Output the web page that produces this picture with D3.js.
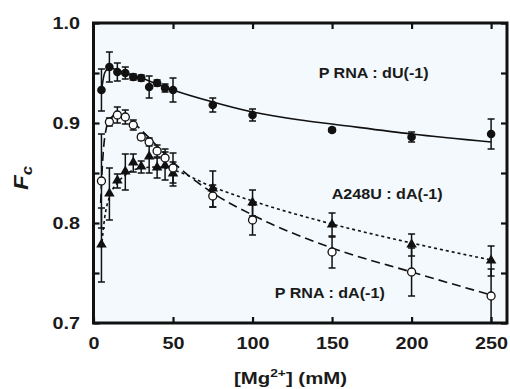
<!DOCTYPE html>
<html>
<head>
<meta charset="utf-8">
<script src="https://cdn.jsdelivr.net/npm/d3@7"></script>
<style>
  html, body { margin: 0; padding: 0; background: #ffffff; }
  svg { display: block; font-family: "Liberation Sans", Arial, Helvetica, sans-serif; }
</style>
</head>
<body>
<svg id="chart" width="510" height="389"></svg>
<script>
// ---- data ----
const conc = [5, 10, 15, 20, 25, 30, 35, 40, 45, 50, 75, 100, 150, 200, 250];

// P RNA : dU(-1)  (filled circles)
const fcDU  = [0.933, 0.956, 0.951, 0.950, 0.946, 0.945, 0.936, 0.940, 0.935, 0.933, 0.918, 0.908, 0.893, 0.886, 0.889];
const errDU = [0.021, 0.015, 0.009, 0.006, 0.003, 0.003, 0.011, 0.003, 0.004, 0.012, 0.007, 0.006, 0.002, 0.005, 0.015];

// A248U : dA(-1)  (filled triangles)
const fcA248U  = [0.778, 0.829, 0.842, 0.851, 0.860, 0.856, 0.866, 0.855, 0.857, 0.849, 0.834, 0.820, 0.798, 0.778, 0.762];
const errA248U = [0.037, 0.026, 0.007, 0.018, 0.009, 0.006, 0.016, 0.010, 0.014, 0.012, 0.018, 0.013, 0.012, 0.011, 0.015];

// P RNA : dA(-1)  (open circles)
const fcPdA  = [0.842, 0.901, 0.908, 0.906, 0.898, 0.886, 0.881, 0.872, 0.865, 0.855, 0.827, 0.803, 0.771, 0.751, 0.727];
const errPdA = [0.047, 0.004, 0.008, 0.007, 0.005, 0.003, 0.004, 0.006, 0.009, 0.015, 0.011, 0.015, 0.016, 0.024, 0.027];

// fitted curves
const fitDUx = [5, 7, 10, 15, 20, 30, 40, 50, 75, 100, 130, 150, 200, 250];
const fitDUy = [0.932, 0.950, 0.955, 0.953, 0.950, 0.945, 0.939, 0.933, 0.921, 0.911, 0.903, 0.899, 0.889, 0.881];

const fitPdAx = [4.5, 5.5, 7, 10, 15, 20, 30, 40, 50, 75, 100, 150, 200, 250];
const fitPdAy = [0.820, 0.855, 0.885, 0.903, 0.909, 0.907, 0.893, 0.877, 0.861, 0.830, 0.808, 0.775, 0.751, 0.728];

const fitA248Ux = [5, 7, 10, 15, 20, 30, 40, 50, 75, 100, 150, 200, 250];
const fitA248Uy = [0.775, 0.805, 0.826, 0.840, 0.848, 0.855, 0.856, 0.853, 0.836, 0.822, 0.799, 0.780, 0.763];

const xTicks = [0, 50, 100, 150, 200, 250];
const yTicksMajor = [0.7, 0.8, 0.9, 1.0];
const yTicksAll = [0.7, 0.75, 0.8, 0.85, 0.9, 0.95, 1.0];

const labels = [
  { text: "P RNA : dU(-1)", x: 210.7, y: 0.9455, anchor: "end" },
  { text: "A248U : dA(-1)", x: 219.5, y: 0.8245, anchor: "end" },
  { text: "P RNA : dA(-1)", x: 114,   y: 0.7255, anchor: "start" }
];

// ---- drawing ----
const svg = d3.select("#chart");
const x = d3.scaleLinear().domain([0, 260]).range([93.5, 507]);
const y = d3.scaleLinear().domain([0.7, 1.0]).range([323, 23]);
const SX = 1.2; // horizontal stretch of the lettering

// plot background
svg.append("rect")
  .attr("x", x(0)).attr("y", y(1.0))
  .attr("width", x(260) - x(0)).attr("height", y(0.7) - y(1.0))
  .attr("fill", "#f3f9fc");

// axes with inward ticks
const tickLen = 6;
svg.append("g").attr("class", "ax").attr("transform", `translate(0,${y(0.7)})`)
  .call(d3.axisBottom(x).tickValues(xTicks).tickSize(-tickLen).tickPadding(14).tickFormat(d3.format("d")))
  .call(g => g.select(".domain").remove());
svg.append("g").attr("transform", `translate(0,${y(1.0)})`)
  .call(d3.axisTop(x).tickValues(xTicks.slice(1)).tickSize(-tickLen).tickFormat(""))
  .call(g => g.select(".domain").remove());
svg.append("g").attr("class", "ax").attr("transform", `translate(${x(0)},0)`)
  .call(d3.axisLeft(y).tickValues(yTicksAll).tickSize(-tickLen).tickPadding(11.2)
    .tickFormat(d => yTicksMajor.some(v => Math.abs(v - d) < 1e-9) ? d3.format(".1f")(d) : ""))
  .call(g => g.select(".domain").remove());
svg.append("g").attr("transform", `translate(${x(260)},0)`)
  .call(d3.axisRight(y).tickValues(yTicksAll).tickSize(-tickLen).tickFormat(""))
  .call(g => g.select(".domain").remove());

svg.selectAll(".tick line").attr("stroke", "#111").attr("stroke-width", 2.2);
svg.selectAll(".ax .tick text")
  .attr("fill", "#1a1a1a")
  .attr("transform", `scale(${SX},1)`)
  .style("font-size", "16.5px")
  .style("font-weight", "bold")
  .style("font-family", "'Liberation Sans', Arial, sans-serif");

// frame
svg.append("rect")
  .attr("x", x(0)).attr("y", y(1.0))
  .attr("width", x(260) - x(0)).attr("height", y(0.7) - y(1.0))
  .attr("fill", "none").attr("stroke", "#111").attr("stroke-width", 3);

// fitted curves
const line = d3.line().curve(d3.curveMonotoneX).x(d => x(d[0])).y(d => y(d[1]));
svg.append("path").datum(d3.zip(fitDUx, fitDUy)).attr("d", line)
  .attr("fill", "none").attr("stroke", "#111").attr("stroke-width", 1.6);
svg.append("path").datum(d3.zip(fitPdAx, fitPdAy)).attr("d", line)
  .attr("fill", "none").attr("stroke", "#111").attr("stroke-width", 1.6)
  .attr("stroke-dasharray", "9,5");
svg.append("path").datum(d3.zip(fitA248Ux, fitA248Uy)).attr("d", line)
  .attr("fill", "none").attr("stroke", "#111").attr("stroke-width", 1.6)
  .attr("stroke-dasharray", "3,3");

// error bars
function errorBars(vals, errs) {
  const g = svg.append("g").attr("stroke", "#111").attr("stroke-width", 1.5);
  const data = d3.zip(conc, vals, errs);
  g.selectAll("line.v").data(data).join("line")
    .attr("x1", d => x(d[0])).attr("x2", d => x(d[0]))
    .attr("y1", d => y(d[1] - d[2])).attr("y2", d => y(d[1] + d[2]));
  g.selectAll("line.t").data(data).join("line")
    .attr("x1", d => x(d[0]) - 3.5).attr("x2", d => x(d[0]) + 3.5)
    .attr("y1", d => y(d[1] + d[2])).attr("y2", d => y(d[1] + d[2]));
  g.selectAll("line.b").data(data).join("line")
    .attr("x1", d => x(d[0]) - 3.5).attr("x2", d => x(d[0]) + 3.5)
    .attr("y1", d => y(d[1] - d[2])).attr("y2", d => y(d[1] - d[2]));
}
errorBars(fcDU, errDU);
errorBars(fcA248U, errA248U);
errorBars(fcPdA, errPdA);

// markers
svg.append("g").selectAll("path").data(d3.zip(conc, fcA248U)).join("path")
  .attr("d", d3.symbol(d3.symbolTriangle, 48))
  .attr("transform", d => `translate(${x(d[0])},${y(d[1]) - 0.5})`)
  .attr("fill", "#111");
svg.append("g").selectAll("circle").data(d3.zip(conc, fcPdA)).join("circle")
  .attr("cx", d => x(d[0])).attr("cy", d => y(d[1])).attr("r", 4)
  .attr("fill", "#fff").attr("stroke", "#111").attr("stroke-width", 1.3);
svg.append("g").selectAll("circle").data(d3.zip(conc, fcDU)).join("circle")
  .attr("cx", d => x(d[0])).attr("cy", d => y(d[1])).attr("r", 4.3)
  .attr("fill", "#111");

// series labels
svg.append("g").selectAll("text").data(labels).join("text")
  .attr("transform", d => `translate(${x(d.x)},${y(d.y)}) scale(1.15,1)`)
  .attr("text-anchor", d => d.anchor)
  .attr("fill", "#1a1a1a")
  .style("font-size", "14px").style("font-weight", "bold")
  .text(d => d.text);

// axis titles
const xt = svg.append("text").attr("transform", `translate(290.5,384) scale(${SX},1)`)
  .attr("text-anchor", "middle").attr("fill", "#1a1a1a")
  .style("font-size", "17px").style("font-weight", "bold");
xt.append("tspan").text("[Mg");
xt.append("tspan").text("2+").attr("dy", -7).style("font-size", "11.5px");
xt.append("tspan").text("] (mM)").attr("dy", 7);

const yt = svg.append("text").attr("transform", `translate(28,178) rotate(-90) scale(${SX},1)`)
  .attr("text-anchor", "middle").attr("fill", "#1a1a1a")
  .style("font-size", "20px").style("font-weight", "bold").style("font-style", "italic");
yt.append("tspan").text("F");
yt.append("tspan").text("c").attr("dy", 4).style("font-size", "14px");
</script>
</body>
</html>
